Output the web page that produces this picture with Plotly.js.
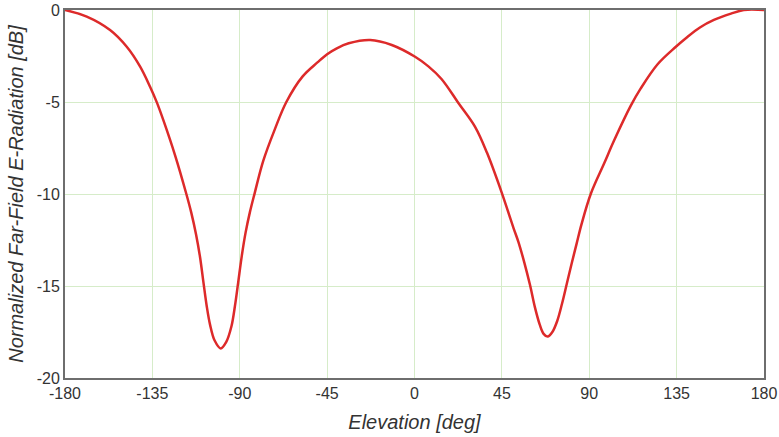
<!DOCTYPE html>
<html>
<head>
<meta charset="utf-8">
<script src="https://cdn.plot.ly/plotly-3.0.1.min.js"></script>
<style>html,body{margin:0;padding:0;background:#fff;}#chart{width:779px;height:437px;}</style>
</head>
<body>
<div id="chart"></div>
<script>
var elevationDeg = [-180, -168.8, -156.8, -148.2, -141.3, -136.2, -132.7, -129.3, -123.3, -117.5, -115, -112.5, -110.5, -108.7, -107, -105.3, -103, -99.8, -97, -94.3, -92.5, -90.8, -89, -87, -84.8, -82.3, -77.9, -72, -66, -57.7, -50, -45, -40, -33.9, -22.8, -11.7, 0.3, 7, 13.9, 22.7, 31.2, 37.3, 45, 51, 53.5, 56.5, 59.5, 62, 64.5, 66.5, 68.6, 71, 73.5, 76, 78.5, 81, 83.5, 86, 90.9, 97.7, 102.9, 111.4, 116.6, 125.2, 134.6, 140.7, 147, 154.2, 163, 169.6, 180];
var radiationDb = [0, -0.36, -1.09, -2.0, -3.08, -4.17, -5.02, -6.0, -7.9, -10.0, -11.0, -12.2, -13.4, -14.8, -16.1, -17.1, -17.95, -18.39, -18.05, -17.2, -16.1, -14.8, -13.4, -12.1, -11.0, -9.95, -8.2, -6.5, -5.0, -3.62, -2.85, -2.4, -2.08, -1.81, -1.63, -1.9, -2.54, -3.05, -3.75, -5.07, -6.35, -7.75, -9.95, -11.85, -12.6, -13.7, -14.95, -16.15, -17.1, -17.6, -17.75, -17.5, -16.9, -15.95, -14.85, -13.75, -12.7, -11.65, -9.96, -8.33, -7.07, -5.2, -4.25, -2.95, -2.0, -1.45, -0.95, -0.54, -0.2, 0, 0];
var xTicks = [-180, -135, -90, -45, 0, 45, 90, 135, 180];
var yTicks = [-20, -15, -10, -5, 0];

var trace = {
  x: elevationDeg,
  y: radiationDb,
  type: 'scatter',
  mode: 'lines',
  line: {color: '#dd2a2a', width: 2.5, shape: 'spline', smoothing: 1},
  hoverinfo: 'x+y'
};

var layout = {
  width: 779,
  height: 437,
  margin: {l: 65, r: 15, t: 10, b: 59},
  paper_bgcolor: '#ffffff',
  plot_bgcolor: '#ffffff',
  showlegend: false,
  font: {family: 'Liberation Sans, Arial, sans-serif', color: '#333333', size: 16},
  xaxis: {
    range: [-180, 180],
    tickvals: xTicks,
    ticktext: xTicks.map(String),
    showgrid: true,
    gridcolor: '#d6ecc9',
    gridwidth: 1,
    zeroline: false,
    showline: true,
    mirror: true,
    linecolor: '#6e6e6e',
    linewidth: 2,
    ticks: '',
    tickfont: {size: 16, color: '#333333'},
    title: {text: 'Elevation [deg]', font: {size: 20, color: '#333333', family: 'Liberation Sans, Arial, sans-serif', style: 'italic'}, standoff: 14}
  },
  yaxis: {
    range: [-20, 0],
    tickvals: yTicks,
    ticktext: yTicks.map(String),
    showgrid: true,
    gridcolor: '#d6ecc9',
    gridwidth: 1,
    zeroline: false,
    showline: true,
    mirror: true,
    linecolor: '#6e6e6e',
    linewidth: 2,
    ticks: '',
    tickfont: {size: 16, color: '#333333'},
    title: {text: 'Normalized Far-Field E-Radiation [dB]', font: {size: 20, color: '#333333', family: 'Liberation Sans, Arial, sans-serif', style: 'italic'}, standoff: 8}
  }
};

Plotly.newPlot('chart', [trace], layout, {displayModeBar: false, staticPlot: true});
</script>
</body>
</html>
